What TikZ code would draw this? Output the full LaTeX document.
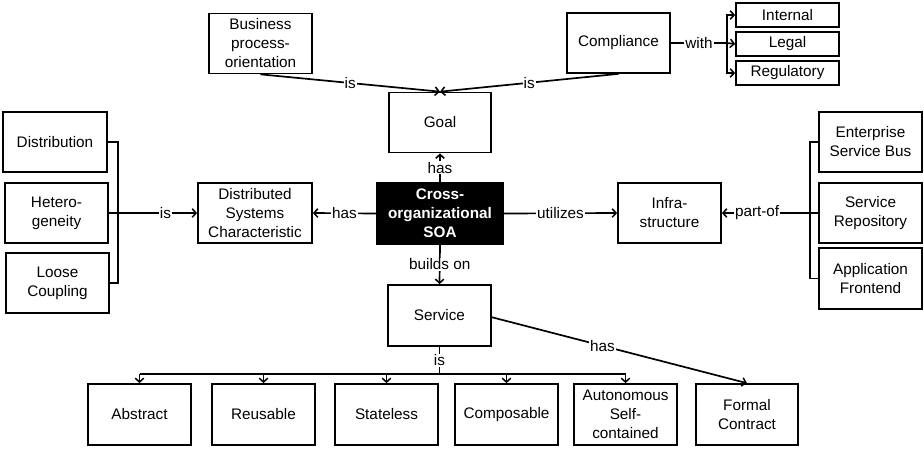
\documentclass[tikz,border=0pt]{standalone}
\usepackage{fontspec}
\setmainfont{Liberation Sans}
\usetikzlibrary{arrows.meta}
\begin{document}
\begin{tikzpicture}[x=1pt,y=-1pt,
  font=\fontsize{15.3}{19}\selectfont,
  box/.style={draw, line width=1.7pt, align=center, inner sep=1pt,
              minimum width=103pt, minimum height=60pt},
  small/.style={box, minimum height=24pt},
  core/.style={box, fill=black, text=white, font=\fontsize{15.3}{19}\selectfont\bfseries,
               minimum width=126pt, minimum height=61pt},
  link/.style={line width=1.7pt},
  arr/.style={link, -{Straight Barb[length=4pt,width=8.5pt,line width=1.5pt]}},
  lbl/.style={fill=white, inner sep=1pt}]
\useasboundingbox (0,0) rectangle (924,448);

% top row
\node[box] (bpo)  at (260.5,43.5) {Business\\process-\\orientation};
\node[box] (comp) at (618.5,43) {Compliance};
\node[small] (int) at (787.5,15) {Internal};
\node[small] (leg) at (787.5,44) {Legal};
\node[small] (reg) at (787.5,73) {Regulatory};
\node[box, minimum width=102pt] (goal) at (440,122.5) {Goal};

% middle row
\node[box, minimum width=104pt] (dist)  at (55,142)  {Distribution};
\node[box] (het)   at (56.5,213) {Hetero-\\geneity};
\node[box] (loose) at (57.5,283) {Loose\\Coupling};
\node[box, minimum width=114pt] (dsc) at (255,213) {Distributed\\Systems\\Characteristic};
\node[core] (soa)  at (440,213.5) {Cross-\\organizational\\SOA};
\node[box] (infra) at (669.5,213) {Infra-\\structure};
\node[box] (esb)   at (870.5,142) {Enterprise\\Service Bus};
\node[box] (srep)  at (870.5,213) {Service\\Repository};
\node[box, minimum height=61pt] (app) at (870.5,278.5) {Application\\Frontend};

% bottom rows
\node[box, minimum height=61pt] (svc) at (439.5,315.5) {Service};
\node[box, minimum height=61pt] (abs) at (139.5,414.5) {Abstract};
\node[box, minimum height=61pt] (reu) at (263.5,414.5) {Reusable};
\node[box, minimum height=61pt] (sta) at (386.5,414.5) {Stateless};
\node[box, minimum height=61pt] (cmp) at (506.5,414.5) {Composable};
\node[box, minimum height=61pt] (aut) at (625.5,414.5) {Autonomous\\Self-\\contained};
\node[box, minimum height=61pt, minimum width=102pt] (fc) at (747,414.5) {Formal\\Contract};

% branching points
\coordinate (cw) at (727,43);
\coordinate (dw) at (118,213);
\coordinate (iw) at (810,213);
\coordinate (sb) at (439.5,374);

% goal relations
\draw[arr] (bpo.south) -- node[lbl]{is} (goal.north);
\draw[arr] (comp.south) -- node[lbl]{is} (goal.north);
\draw[link] (comp.east) -- node[lbl]{with} (cw);
\draw[arr] (cw) |- (int.west);
\draw[arr] (cw) -- (leg.west);
\draw[arr] (cw) |- (reg.west);

% central relations
\draw[arr] (soa.north) -- node[lbl]{has} (goal.south);
\draw[arr] (soa.west) -- node[lbl]{has} (dsc.east);
\draw[arr] (soa.east) -- node[lbl]{utilizes} (infra.west);
\draw[arr] (soa.south) -- node[lbl]{builds on} (svc.north);

% distributed systems characteristics
\draw[link] (dist.east) -| (dw) |- (loose.east);
\draw[link] (het.east) -- (dw);
\draw[arr] (dw) -- node[lbl, pos=0.6]{is} (dsc.west);

% infrastructure parts
\draw[link] (esb.west) -| (iw) |- (app.west);
\draw[link] (srep.west) -- (iw);
\draw[arr] (iw) -- node[lbl, pos=0.6]{part-of} (infra.east);

% service properties
\draw[link] (svc.south) -- node[lbl]{is} (sb);
\draw[link] (abs.north |- sb) -- (aut.north |- sb);
\foreach \t in {abs,reu,sta,cmp,aut}
  \draw[arr] (\t.north |- sb) -- (\t.north);
\draw[arr] (491,317) -- node[lbl, pos=0.435]{has} (fc.north);
\end{tikzpicture}
\end{document}
